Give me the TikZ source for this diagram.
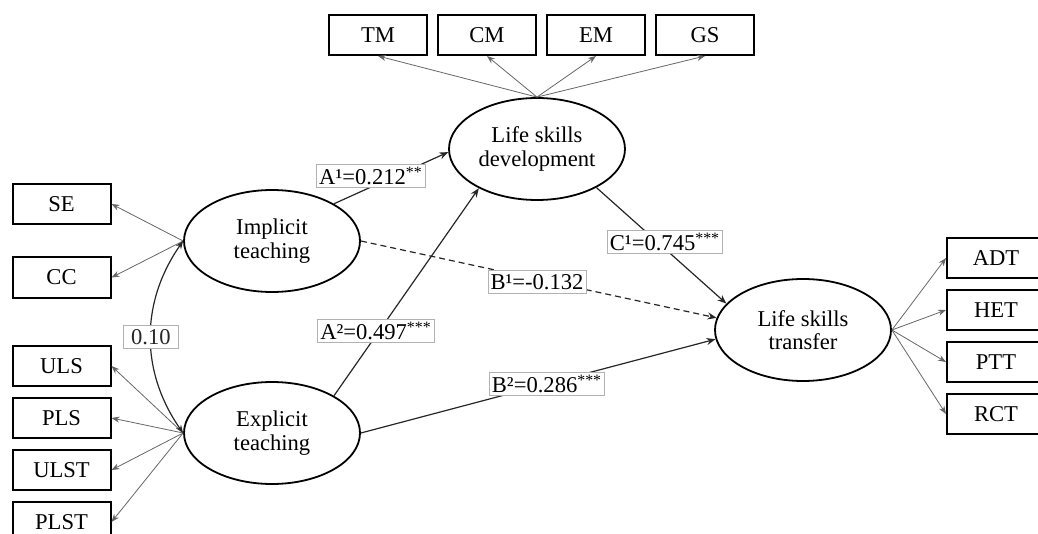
\documentclass[tikz,border=0pt]{standalone}
\usepackage{fontspec}
\setmainfont{Liberation Serif}
\usetikzlibrary{arrows.meta,positioning,shapes.geometric}

\begin{document}
\begin{tikzpicture}[x=0.5pt,y=-0.5pt,
    every node/.style={font=\fontsize{11.3}{11.6}\selectfont},
    obs/.style={draw,line width=1pt,minimum width=49pt,minimum height=20pt,inner sep=0pt},
    lat/.style={draw,ellipse,line width=0.9pt,minimum width=88pt,minimum height=51pt,inner sep=0pt,align=center},
    coef/.style={draw=black!30,fill=white,line width=0.4pt,inner xsep=1.3pt,inner ysep=1pt,minimum height=11.5pt},
    load/.style={-{Stealth[length=4pt,width=3pt]},black!60,line width=0.4pt},
    eff/.style={-{Stealth[length=4.5pt,width=3.5pt]},black!85,line width=0.6pt}]
      \useasboundingbox (0,0) rectangle (1038,534);
      % latent variables
      \node[lat] (imp) at (272,241) {Implicit\\teaching};
      \node[lat] (exp) at (272,433) {Explicit\\teaching};
      \node[lat] (dev) at (537,149) {Life skills\\development};
      \node[lat] (tr) at (803,330) {Life skills\\transfer};
      % indicators
      \node[obs] (tm) at (378,35) {TM};
      \node[obs,right=4.5pt of tm] (cm) {CM};
      \node[obs,right=4.5pt of cm] (em) {EM};
      \node[obs,right=4.5pt of em] (gs) {GS};
      \node[obs] (se) at (61.5,204) {SE};
      \node[obs] (cc) at (61.5,277.5) {CC};
      \node[obs] (uls) at (61.5,366) {ULS};
      \node[obs,below=5pt of uls] (pls) {PLS};
      \node[obs,below=5pt of pls] (ulst) {ULST};
      \node[obs,below=5pt of ulst] (plst) {PLST};
      \node[obs] (adt) at (996,258) {ADT};
      \node[obs,below=5pt of adt] (het) {HET};
      \node[obs,below=5pt of het] (ptt) {PTT};
      \node[obs,below=5pt of ptt] (rct) {RCT};
      % loadings
      \foreach \b in {tm,cm,em,gs}
        \draw[load] (dev.north) -- (\b.south);
      \foreach \b in {se,cc}
        \draw[load] (imp.west) -- (\b.east);
      \foreach \b in {uls,pls,ulst,plst}
        \draw[load] (exp.west) -- (\b.east);
      \foreach \b in {adt,het,ptt,rct}
        \draw[load] (tr.east) -- (\b.west);
      % structural paths
      \draw[eff] (imp.31) -- (dev.182);
      \draw[eff] (exp.31) -- (dev.214);
      \draw[eff,dash pattern=on 3pt off 2pt] (imp.east) -- (tr.172);
      \draw[eff] (exp.east) -- (tr.186);
      \draw[eff] (dev.-33) -- (tr.161);
      \draw[{Stealth[length=4pt,width=3pt]}-{Stealth[length=4pt,width=3pt]},black!85,line width=0.6pt]
        (imp.west) to[bend right=35] node[coef,minimum width=27.5pt] (cov) {0.10} (exp.west);
      % coefficients
      \node[coef] (a1) at (371,176) {A¹=0.212\textsuperscript{**}};
      \node[coef] (a2) at (376,331) {A²=0.497\textsuperscript{***}};
      \node[coef] (b1) at (537,282) {B¹=-0.132};
      \node[coef] (b2) at (547,384) {B²=0.286\textsuperscript{***}};
      \node[coef] (c1) at (665,242) {C¹=0.745\textsuperscript{***}};
    \end{tikzpicture}
\end{document}
